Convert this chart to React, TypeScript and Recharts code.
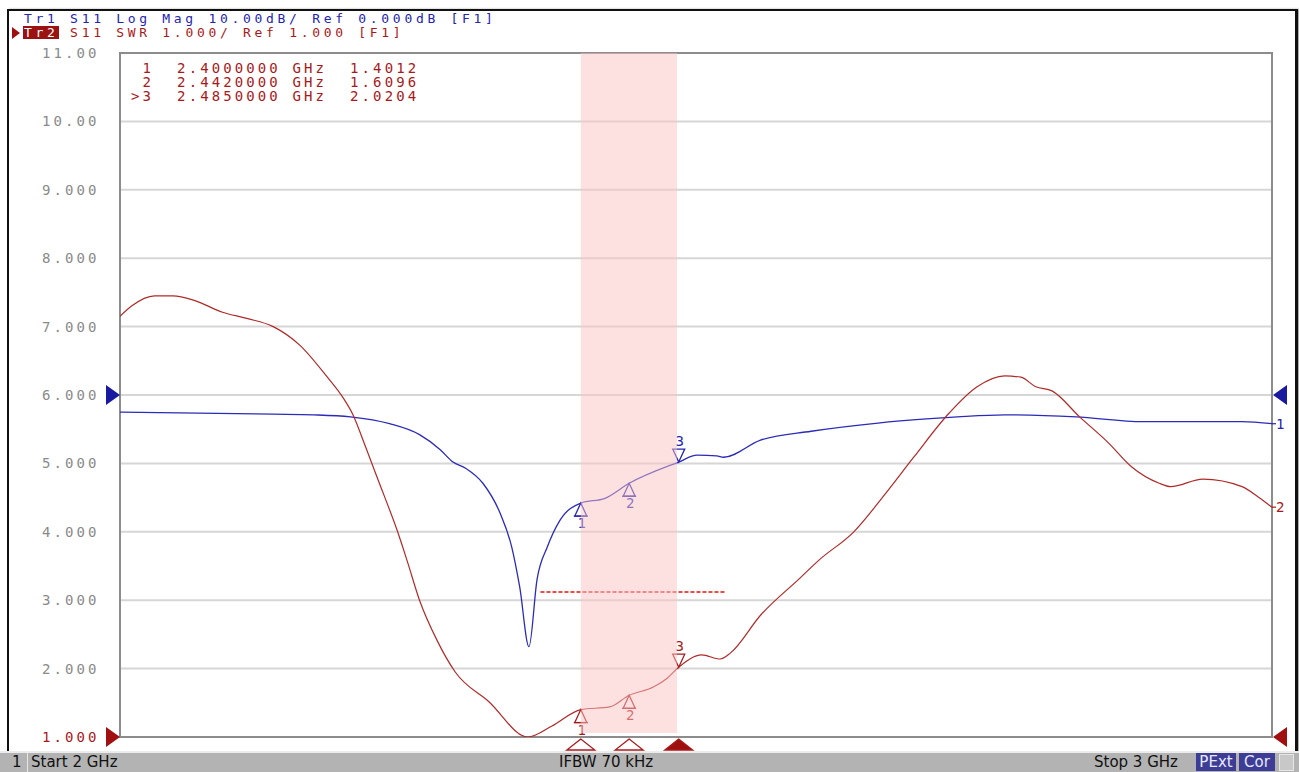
import React from 'react';
import { ComposedChart, Line, Area, XAxis, YAxis, CartesianGrid, ReferenceArea, ReferenceDot, ReferenceLine } from 'recharts';

// axes
const xTicks = [2.0, 2.1, 2.2, 2.3, 2.4, 2.5, 2.6, 2.7, 2.8, 2.9, 3.0];
const yTicks = [1, 2, 3, 4, 5, 6, 7, 8, 9, 10, 11];

// Tr2: S11 SWR
const swrFreq = [
    2.0, 2.01, 2.03, 2.046, 2.065, 2.089, 2.11, 2.133, 2.156, 2.18, 2.194, 2.202, 2.213, 2.224,
    2.241, 2.249, 2.26, 2.275, 2.291, 2.32, 2.354, 2.375, 2.4, 2.425, 2.442, 2.463, 2.475,
    2.485, 2.505, 2.521, 2.53, 2.556, 2.59, 2.607, 2.637, 2.665, 2.689, 2.72, 2.744, 2.768,
    2.782, 2.795, 2.809, 2.833, 2.858, 2.878, 2.902, 2.912, 2.94, 2.974, 2.988, 3.0,
];
const swrValue = [
    7.15, 7.3, 7.45, 7.45, 7.38, 7.21, 7.12, 7.0, 6.73, 6.26, 5.95, 5.72, 5.25, 4.76,
    4.0, 3.59, 3.0, 2.42, 1.95, 1.52, 1.0, 1.16, 1.4, 1.44, 1.61, 1.73, 1.86,
    2.02, 2.2, 2.14, 2.23, 2.78, 3.32, 3.59, 4.0, 4.57, 5.09, 5.74, 6.12, 6.28,
    6.26, 6.12, 6.06, 5.68, 5.3, 4.95, 4.71, 4.66, 4.77, 4.66, 4.51, 4.36,
];

// Tr1: S11 Log Mag (dB), 10 dB/div, ref 0 dB at division 6
const magFreq = [
    2.0, 2.133, 2.168, 2.2, 2.234, 2.26, 2.278, 2.289, 2.3, 2.315, 2.33, 2.34, 2.347, 2.355,
    2.362, 2.371, 2.382, 2.4, 2.421, 2.442, 2.485, 2.501, 2.518, 2.524, 2.556, 2.6, 2.658,
    2.7, 2.727, 2.768, 2.83, 2.888, 2.974, 3.0,
];
const magDb = [
    -2.5, -2.8, -2.9, -3.2, -4.2, -5.8, -8.0, -9.8, -10.7, -12.9, -17.3, -22.2, -28.1, -36.8,
    -27.0, -22.2, -18.3, -15.8, -15.1, -12.9, -9.8, -8.8, -8.9, -9.1, -6.6, -5.3, -4.1,
    -3.5, -3.2, -2.9, -3.2, -3.9, -3.9, -4.2,
];
const magRefPos = 6;
const magScale = 10;

// markers
const markerFreq = [2.4, 2.442, 2.485];
const markerSwr = [1.4012, 1.6096, 2.0204];
const activeMarker = 2;

// shaded band and limit segment
const bandStart = 2.4;
const bandStop = 2.4835;
const bandBottom = 1.06;
const limitStart = 2.365;
const limitStop = 2.525;
const limitValue = 3.12;

const swrData = swrFreq.map((f, i) => ({ f, v: swrValue[i] }));
const magData = magFreq.map((f, i) => ({ f, v: magRefPos + magDb[i] / magScale }));
const bandData = [{ f: bandStart, v: 11 }, { f: bandStop, v: 11 }];
const magAt = (f: number) => magRefPos + magDb[magFreq.indexOf(f)] / magScale;

const RED = '#a8191b';
const RED_TRACE = '#b02a2a';
const BLUE = '#2424b0';
const BLUE_TRACE = '#2b2bb8';
const MONO = '"DejaVu Sans Mono", monospace';

const fmtY = (v: number) => (v >= 10 ? v.toFixed(2) : v.toFixed(3));

function YTick(props: any) {
    const { y, payload } = props;
    return (
        <text x={42} y={y + 5} fill={payload.value === 1 ? RED : '#8a8a8a'} fontFamily={MONO} fontSize={14} letterSpacing={3.1}>
            {fmtY(payload.value)}
        </text>
    );
}

function TraceMarker(props: any) {
    const { cx, cy, n, color, down } = props;
    if (down) {
        return (
            <g>
                <path d={`M${cx},${cy} L${cx - 6},${cy - 13} L${cx + 6},${cy - 13} Z`} fill="none" stroke={color} strokeWidth={1.3} />
                <text x={cx + 1} y={cy - 16} textAnchor="middle" fill={color} fontFamily={MONO} fontSize={14}>{n}</text>
            </g>
        );
    }
    return (
        <g>
            <path d={`M${cx},${cy} L${cx - 6},${cy + 13} L${cx + 6},${cy + 13} Z`} fill="none" stroke={color} strokeWidth={1.3} />
            <line x1={cx - 7} y1={cy + 13} x2={cx + 7} y2={cy + 13} stroke={color} strokeWidth={1.3} />
            <text x={cx + 1} y={cy + 25} textAnchor="middle" fill={color} fontFamily={MONO} fontSize={14}>{n}</text>
        </g>
    );
}

function AxisMarker(props: any) {
    const { cx, cy, filled } = props;
    return (
        <path d={`M${cx},${cy + 2} L${cx - 14},${cy + 13} L${cx + 14},${cy + 13} Z`} fill={filled ? '#9e0f0f' : '#fff'} stroke={RED} strokeWidth={1.3} />
    );
}

function RefArrow(props: any) {
    const { cx, cy, color, side } = props;
    if (side === 'left') {
        return <path d={`M${cx - 14},${cy - 10} L${cx},${cy} L${cx - 14},${cy + 10} Z`} fill={color} />;
    }
    return <path d={`M${cx + 15},${cy - 10} L${cx + 1},${cy} L${cx + 15},${cy + 10} Z`} fill={color} />;
}

function EndLabel(props: any) {
    const { cx, cy, n, color } = props;
    return (
        <g>
            <line x1={cx} y1={cy} x2={cx + 4} y2={cy} stroke={color} strokeWidth={1.2} />
            <text x={cx + 4} y={cy + 5} fill={color} fontFamily={MONO} fontSize={14}>{n}</text>
        </g>
    );
}

const readout = markerFreq.map(
    (f, i) => `${i === activeMarker ? '>' : ' '}${i + 1}  ${f.toFixed(7)} GHz  ${markerSwr[i].toFixed(4)}`
);

const monoText: React.CSSProperties = {
    position: 'absolute',
    fontFamily: MONO,
    fontSize: 14,
    lineHeight: '14px',
    letterSpacing: '3.1px',
    whiteSpace: 'pre',
};

const headText: React.CSSProperties = {
    ...monoText,
    fontSize: 13,
    lineHeight: '13px',
    letterSpacing: '3.7px',
};

const statusText: React.CSSProperties = {
    position: 'absolute',
    top: 753,
    fontFamily: '"DejaVu Sans", sans-serif',
    fontSize: 15,
    lineHeight: '19px',
    color: '#111',
    whiteSpace: 'pre',
};

export default function App() {
    return (
        <div style={{ position: 'absolute', left: 0, top: 0, width: 1299, height: 772, background: '#fff', overflow: 'hidden' }}>
            <ComposedChart width={1299} height={772} margin={{ top: 53, right: 27, bottom: 35, left: 0 }}>
                <CartesianGrid stroke="#d6d6d6" strokeWidth={2} />
                <XAxis dataKey="f" type="number" domain={[2, 3]} ticks={xTicks} allowDataOverflow height={0} tick={false} axisLine={false} tickLine={false} />
                <YAxis type="number" domain={[1, 11]} ticks={yTicks} allowDataOverflow width={120} tick={<YTick />} axisLine={false} tickLine={false} />
                <ReferenceArea x1={2} x2={3} y1={1} y2={11} fill="none" stroke="#8c8c8c" strokeWidth={2} />
                <Line data={magData} dataKey="v" type="monotone" stroke={BLUE_TRACE} strokeWidth={1.3} dot={false} isAnimationActive={false} />
                <Line data={swrData} dataKey="v" type="monotone" stroke={RED_TRACE} strokeWidth={1.2} dot={false} isAnimationActive={false} />
                <Area data={bandData} dataKey="v" type="linear" baseValue={bandBottom} fill="#fbc4c4" fillOpacity={0.5} stroke="none" isAnimationActive={false} {...({ zIndex: 1000 } as any)} />
                <ReferenceLine segment={[{ x: limitStart, y: limitValue }, { x: limitStop, y: limitValue }]} stroke="#e31010" strokeWidth={1.5} strokeDasharray="4 2" />
                {markerFreq.map((f, i) => (
                    <ReferenceDot key={'m' + i} x={f} y={magAt(f)} shape={(p: any) => <TraceMarker {...p} n={i + 1} color={BLUE} down={i === activeMarker} />} />
                ))}
                {markerFreq.map((f, i) => (
                    <ReferenceDot key={'s' + i} x={f} y={markerSwr[i]} shape={(p: any) => <TraceMarker {...p} n={i + 1} color={RED} down={i === activeMarker} />} />
                ))}
                {markerFreq.map((f, i) => (
                    <ReferenceDot key={'a' + i} x={f} y={1} shape={(p: any) => <AxisMarker {...p} filled={i === activeMarker} />} />
                ))}
                <ReferenceDot x={2} y={magRefPos} shape={(p: any) => <RefArrow {...p} color="#1a1aa0" side="left" />} />
                <ReferenceDot x={2} y={1} shape={(p: any) => <RefArrow {...p} color="#a01010" side="left" />} />
                <ReferenceDot x={3} y={magRefPos} shape={(p: any) => <RefArrow {...p} color="#1a1aa0" side="right" />} />
                <ReferenceDot x={3} y={1} shape={(p: any) => <RefArrow {...p} color="#a01010" side="right" />} />
                <ReferenceDot x={3} y={magData[magData.length - 1].v} shape={(p: any) => <EndLabel {...p} n="1" color={BLUE} />} />
                <ReferenceDot x={3} y={swrValue[swrValue.length - 1]} shape={(p: any) => <EndLabel {...p} n="2" color={RED} />} />
            </ComposedChart>

            {/* window frame */}
            <div style={{ position: 'absolute', left: 7, top: 9, width: 1286, height: 742, borderTop: '2px solid #111', borderLeft: '2px solid #111', borderRight: '3px solid #111', boxShadow: '2px 0 2px #aaa' }} />

            {/* trace header */}
            <div style={{ ...headText, left: 24, top: 12, color: BLUE }}>Tr1 S11 Log Mag 10.00dB/ Ref 0.000dB [F1]</div>
            <div style={{ position: 'absolute', left: 23, top: 26, width: 36, height: 13, background: '#9b1212' }} />
            <svg style={{ position: 'absolute', left: 11, top: 26 }} width={10} height={14}>
                <path d="M1,1 L9,7 L1,13 Z" fill="#a01010" />
            </svg>
            <div style={{ ...headText, left: 24, top: 26, color: RED }}>
                <span style={{ color: '#fff' }}>Tr2</span> S11 SWR 1.000/ Ref 1.000 [F1]
            </div>

            {/* marker readout */}
            {readout.map((r, i) => (
                <div key={r} style={{ ...monoText, left: 131, top: 61 + i * 14, color: RED }}>{r}</div>
            ))}

            {/* status bar */}
            <div style={{ position: 'absolute', left: 0, top: 751, width: 1299, height: 21, background: '#b3b3b3', borderTop: '2px solid #ececec', boxSizing: 'border-box' }} />
            <div style={{ position: 'absolute', left: 27, top: 753, width: 1, height: 19, background: '#e6e6e6' }} />
            <div style={{ ...statusText, left: 12 }}>1</div>
            <div style={{ ...statusText, left: 31 }}>Start 2 GHz</div>
            <div style={{ ...statusText, left: 559 }}>IFBW 70 kHz</div>
            <div style={{ ...statusText, left: 1094 }}>Stop 3 GHz</div>
            <div style={{ ...statusText, left: 1196, width: 40, height: 18, background: '#3d3d96', color: '#e8e8ff', textAlign: 'center' }}>PExt</div>
            <div style={{ ...statusText, left: 1239, width: 36, height: 18, background: '#3d3d96', color: '#e8e8ff', textAlign: 'center' }}>Cor</div>
            <div style={{ position: 'absolute', left: 1279, top: 754, width: 15, height: 17, background: '#c8c8c8', border: '1px solid #e6e6e6', boxSizing: 'border-box' }} />
        </div>
    );
}
